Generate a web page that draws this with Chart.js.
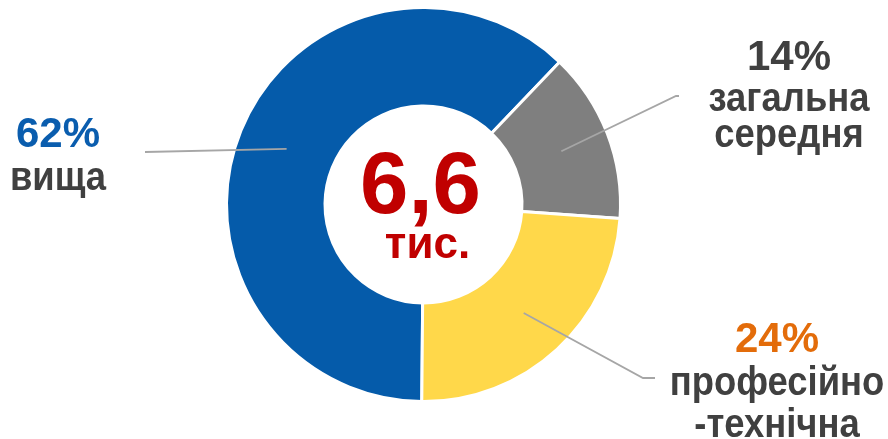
<!DOCTYPE html>
<html>
<head>
<meta charset="utf-8">
<script src="https://cdn.jsdelivr.net/npm/chart.js@4.4.1/dist/chart.umd.min.js"></script>
<style>
  html, body { margin: 0; padding: 0; background: #ffffff; }
  #wrap { position: relative; width: 888px; height: 439px; }
</style>
</head>
<body>
<div id="wrap"><canvas id="donut"></canvas></div>
<script>
// ── DATA ──────────────────────────────────────────
var categories = ['вища', 'загальна середня', 'професійно-технічна'];
var shares     = [62, 14, 24];                  // % від загальної кількості
var labelLines = [['вища'], ['загальна', 'середня'], ['професійно', '-технічна']];
var totalValue = '6,6';
var totalUnit  = 'тис.';

// ── STYLE ─────────────────────────────────────────
var segColors = ['#055BAA', '#7F7F7F', '#FFD84A'];
var pctColors = ['#0A5DAE', '#404040', '#E36C0A'];
var textColor = '#404040';
var lineColor = '#A6A6A6';
var FONT = "'Liberation Sans', Arial, sans-serif";

// label layout: text centre x, baselines, leader line end points
var labelLayout = [
  { x: 58,  base: [147, 190],      leader: [[145, 152]] },
  { x: 789, base: [70, 111, 147],  leader: [[676, 96], [679, 96]] },
  { x: 777, base: [352, 395, 437], leader: [[643, 378], [655, 378]] }
];

// narrow text like the original (Cyrillic is a bit condensed)
function fillNarrow(ctx, txt, x, y, k) {
  ctx.save();
  ctx.translate(x, y);
  ctx.scale(k, 1);
  ctx.fillText(txt, 0, 0);
  ctx.restore();
}

var labelsPlugin = {
  id: 'donutLabels',
  afterDatasetsDraw: function (chart) {
    var ctx  = chart.ctx;
    var arcs = chart.getDatasetMeta(0).data;
    ctx.save();

    // leader lines from each arc centroid
    ctx.strokeStyle = lineColor;
    ctx.lineWidth = 1.8;
    arcs.forEach(function (arc, i) {
      var p = arc.tooltipPosition();
      ctx.beginPath();
      ctx.moveTo(p.x, p.y);
      labelLayout[i].leader.forEach(function (pt) { ctx.lineTo(pt[0], pt[1]); });
      ctx.stroke();
    });

    // labels
    ctx.textAlign = 'center';
    ctx.textBaseline = 'alphabetic';
    shares.forEach(function (v, i) {
      var lay = labelLayout[i];
      ctx.font = 'bold 42px ' + FONT;
      ctx.fillStyle = pctColors[i];
      ctx.fillText(v + '%', lay.x, lay.base[0]);
      ctx.font = 'bold 40px ' + FONT;
      ctx.fillStyle = textColor;
      labelLines[i].forEach(function (t, j) {
        fillNarrow(ctx, t, lay.x, lay.base[j + 1], 0.91);
      });
    });

    // centre total
    var c = arcs[0];
    ctx.fillStyle = '#C00000';
    ctx.font = 'bold 87px ' + FONT;
    ctx.fillText(totalValue, c.x - 3, 213);
    ctx.font = 'bold 44px ' + FONT;
    ctx.fillText(totalUnit, c.x + 4, 258);
    ctx.restore();
  }
};

new Chart(document.getElementById('donut'), {
  type: 'doughnut',
  data: {
    labels: categories,
    datasets: [{
      data: shares,
      backgroundColor: segColors,
      borderColor: '#ffffff',
      borderWidth: 3
    }]
  },
  options: {
    responsive: true,
    maintainAspectRatio: false,
    animation: false,
    rotation: 180.5,
    cutout: '50%',
    layout: { padding: { top: 6, bottom: 36, left: 0, right: 41 } },
    plugins: { legend: { display: false }, tooltip: { enabled: false } }
  },
  plugins: [labelsPlugin]
});
</script>
</body>
</html>
